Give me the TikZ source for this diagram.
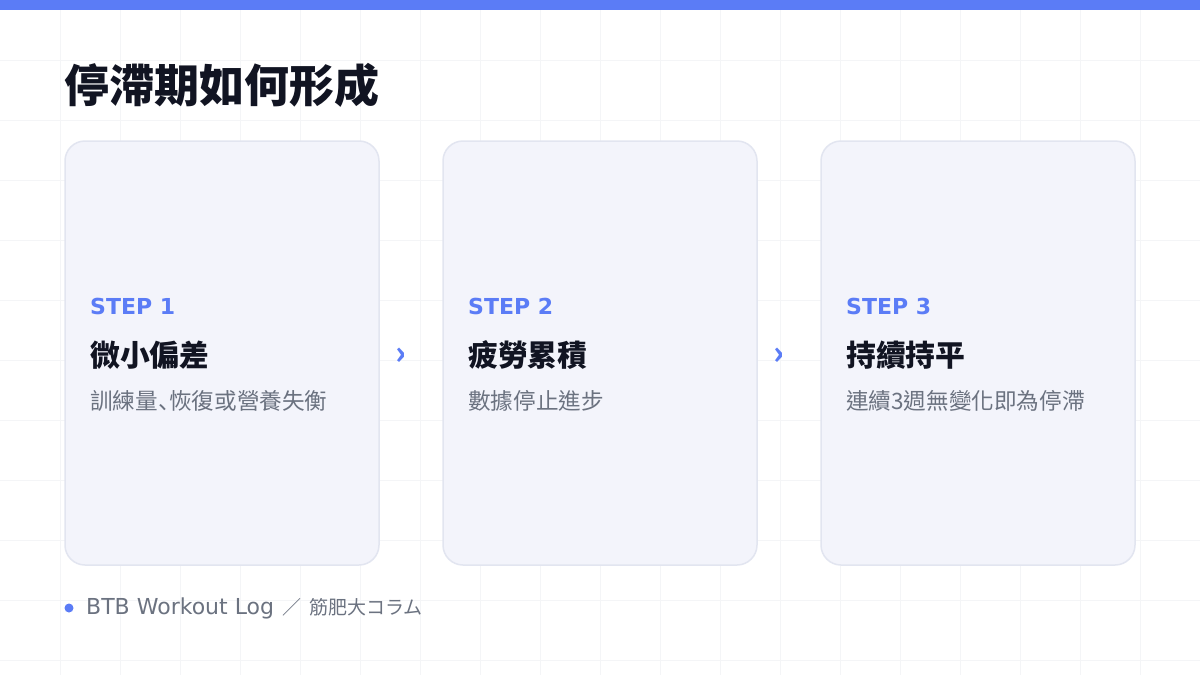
\documentclass[tikz,border=0pt]{standalone}
\usepackage{fontspec}
\setmainfont{Noto Sans CJK TC}
\newfontfamily\titlefont{Noto Sans CJK TC Black}
\newfontfamily\jpfont{Noto Sans CJK JP}
\newfontfamily\latinfont{DejaVu Sans}
\definecolor{accent}{HTML}{5B7CF6}
\definecolor{gridline}{HTML}{F4F5F7}
\definecolor{cardfill}{HTML}{F3F4FB}
\definecolor{cardline}{HTML}{E2E5F0}
\definecolor{ink}{HTML}{111422}
\definecolor{muted}{HTML}{6B7280}
\newcommand{\halfcomma}{{\jpfont\makebox[0.5em][l]{、}}}
\tikzset{
  card/.style={draw=cardline, line width=1.5pt, fill=cardfill, rounded corners=20pt,
    minimum width=314pt, minimum height=424pt, inner sep=0pt},
  steplabel/.style={anchor=west, inner sep=0pt, text=accent, font=\latinfont\bfseries\fontsize{22}{26}\selectfont},
  stephead/.style={anchor=west, inner sep=0pt, text=ink, font=\titlefont\fontsize{29.8}{32}\selectfont},
  stepnote/.style={anchor=west, inner sep=0pt, text=muted, font=\fontsize{22.6}{24}\selectfont},
  chevron/.style={inner sep=0pt, text=accent, font=\titlefont\fontsize{32}{32}\selectfont}
}
\begin{document}
\begin{tikzpicture}[x=1pt, y=-1pt]

  % Page background and faint grid
  \fill[white] (0,0) rectangle (1200,675);
  \useasboundingbox (0,0) rectangle (1200,675);
  \foreach \gx in {60,120,...,1140} \draw[gridline, line width=0.8pt] (\gx,0) -- (\gx,675);
  \foreach \gy in {60,120,...,660} \draw[gridline, line width=0.8pt] (0,\gy) -- (1200,\gy);

  % Top accent bar
  \fill[accent] (0,0) rectangle (1200,10);

  % Title
  \node[anchor=west, inner sep=0pt, text=ink, font=\titlefont\fontsize{45}{48}\selectfont]
    (title) at (64,85) {停滯期如何形成};

  % The three cards
  \node[card] (card1) at (222,353) {};
  \node[card] (card2) at (600,353) {};
  \node[card] (card3) at (978,353) {};

  % Card 1
  \node[steplabel] (step1) at (90,306) {STEP 1};
  \node[stephead] (head1) at (90,355) {微小偏差};
  \node[stepnote] (note1) at (90,401) {訓練量\halfcomma 恢復或營養失衡};

  % Card 2
  \node[steplabel] (step2) at (468,306) {STEP 2};
  \node[stephead] (head2) at (468,355) {疲勞累積};
  \node[stepnote] (note2) at (468,401) {數據停止進步};

  % Card 3
  \node[steplabel] (step3) at (846,306) {STEP 3};
  \node[stephead] (head3) at (846,355) {持續持平};
  \node[stepnote] (note3) at (846,401) {連續3週無變化即為停滯};

  % Chevrons between the cards
  \node[chevron] (arrow1) at (401,356) {›};
  \node[chevron] (arrow2) at (779,356) {›};

  % Footer
  \fill[accent] (69,608) circle (4.5pt);
  \node[anchor=west, inner sep=0pt, text=muted, font=\fontsize{19}{24}\selectfont]
    (footer) at (86,608) {{\latinfont\fontsize{22}{24}\selectfont BTB Workout Log}\hspace{8pt}／\hspace{8pt}筋肥大コラム};

\end{tikzpicture}
\end{document}
